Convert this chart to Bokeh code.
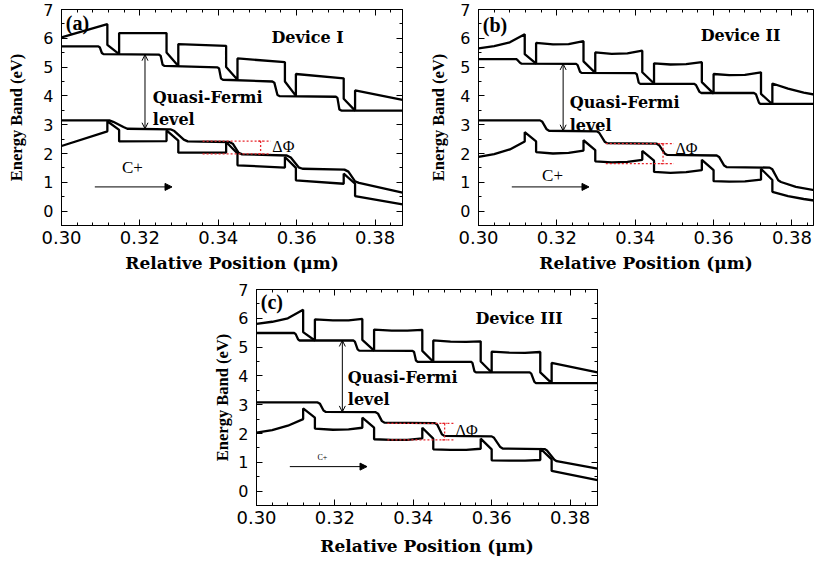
from bokeh.plotting import figure
from bokeh.layouts import row, column, Spacer
from bokeh.models import (Range1d, SingleIntervalTicker, LinearAxis, Label, Arrow,
                          OpenHead, NormalHead, PrintfTickFormatter, CustomJSTickFormatter)
from bokeh.embed import file_html
from bokeh.resources import INLINE

# ---------------- Device I ----------------
DEV1_CB_X = [0.300, 0.3117, 0.3117, 0.3147, 0.3147, 0.3268, 0.3268, 0.3298, 0.3298, 0.3420, 0.3420,
             0.3449, 0.3449, 0.3570, 0.3570, 0.3598, 0.3598, 0.3720, 0.3720, 0.3749, 0.3749, 0.3870]
DEV1_CB_Y = [6.03, 6.49, 5.77, 5.45, 6.18, 6.18, 5.51, 5.04, 5.80, 5.74, 5.00,
             4.56, 5.30, 5.17, 4.50, 4.00, 4.76, 4.61, 3.90, 3.49, 4.19, 3.86]
DEV1_EFN_X = [0.300, 0.3094, 0.3098, 0.3103, 0.3107, 0.3249, 0.3253, 0.3258, 0.3263, 0.3398, 0.3402,
              0.3407, 0.3412, 0.3538, 0.3543, 0.3551, 0.3557, 0.3700, 0.3704, 0.3709, 0.3714, 0.3870]
DEV1_EFN_Y = [5.72, 5.72, 5.68, 5.49, 5.45, 5.43, 5.39, 5.08, 5.04, 4.99, 4.95,
              4.60, 4.56, 4.50, 4.46, 4.03, 3.99, 3.97, 3.93, 3.53, 3.49, 3.49]
DEV1_EFP_X = [0.300, 0.3122, 0.3132, 0.3158, 0.3168, 0.3278, 0.3288, 0.3312, 0.3322, 0.3428, 0.3437,
              0.3452, 0.3461, 0.3575, 0.3585, 0.3605, 0.3615, 0.3722, 0.3732, 0.3749, 0.3759, 0.3870]
DEV1_EFP_Y = [3.15, 3.15, 3.10, 2.92, 2.86, 2.84, 2.78, 2.48, 2.42, 2.40, 2.34,
              2.02, 1.97, 1.93, 1.86, 1.52, 1.47, 1.44, 1.37, 1.03, 0.98, 0.64]
DEV1_VB_X = [0.300, 0.3117, 0.3117, 0.3147, 0.3147, 0.3268, 0.3268, 0.3298, 0.3298, 0.3420, 0.3420,
             0.3449, 0.3449, 0.3570, 0.3570, 0.3598, 0.3598, 0.3720, 0.3720, 0.3749, 0.3749, 0.3870]
DEV1_VB_Y = [2.26, 2.77, 3.12, 2.82, 2.42, 2.43, 2.80, 2.45, 2.03, 2.03, 2.40,
             2.00, 1.59, 1.51, 1.88, 1.50, 1.07, 0.95, 1.30, 0.95, 0.52, 0.23]

# ---------------- Device II ----------------
DEV2_CB_X = [0.300, 0.304, 0.308, 0.3118, 0.3118, 0.3147, 0.3147, 0.3190, 0.3230, 0.3268, 0.3268,
             0.3298, 0.3298, 0.3340, 0.3380, 0.3418, 0.3418, 0.3448, 0.3448, 0.3490, 0.3530, 0.3570,
             0.3570, 0.3600, 0.3600, 0.3640, 0.3680, 0.3721, 0.3721, 0.3750, 0.3750, 0.3790, 0.3830, 0.3860]
DEV2_CB_Y = [5.65, 5.73, 5.86, 6.14, 5.45, 5.12, 5.84, 5.79, 5.80, 5.90, 5.20,
             4.80, 5.51, 5.46, 5.48, 5.57, 4.82, 4.43, 5.13, 5.09, 5.10, 5.17,
             4.48, 4.08, 4.76, 4.72, 4.73, 4.82, 4.07, 3.71, 4.43, 4.25, 4.11, 4.04]
DEV2_EFN_X = [0.300, 0.3096, 0.3100, 0.3106, 0.3110, 0.3249, 0.3253, 0.3259, 0.3263, 0.3400, 0.3404,
              0.3409, 0.3413, 0.3550, 0.3555, 0.3564, 0.3569, 0.3703, 0.3708, 0.3716, 0.3720, 0.3860]
DEV2_EFN_Y = [5.28, 5.28, 5.24, 5.15, 5.12, 5.11, 5.07, 4.84, 4.80, 4.79, 4.75,
              4.46, 4.42, 4.42, 4.38, 4.14, 4.10, 4.10, 4.06, 3.76, 3.72, 3.72]
DEV2_EFP_X = [0.300, 0.3157, 0.3163, 0.3174, 0.3180, 0.3302, 0.3308, 0.3322, 0.3328, 0.3455, 0.3461,
              0.3476, 0.3482, 0.3608, 0.3614, 0.3627, 0.3633, 0.3743, 0.3750, 0.3765, 0.3772, 0.3810, 0.3860]
DEV2_EFP_Y = [3.15, 3.15, 3.10, 2.84, 2.79, 2.77, 2.72, 2.41, 2.36, 2.34, 2.29,
              1.99, 1.95, 1.93, 1.88, 1.58, 1.53, 1.51, 1.45, 1.07, 1.01, 0.84, 0.72]
DEV2_VB_X = [0.300, 0.304, 0.308, 0.3118, 0.3118, 0.3147, 0.3147, 0.3190, 0.3230, 0.3268, 0.3268,
             0.3298, 0.3298, 0.3340, 0.3380, 0.3418, 0.3418, 0.3448, 0.3448, 0.3490, 0.3530, 0.3570,
             0.3570, 0.3600, 0.3600, 0.3640, 0.3680, 0.3721, 0.3721, 0.3750, 0.3750, 0.3790, 0.3830, 0.3860]
DEV2_VB_Y = [1.88, 1.98, 2.14, 2.42, 2.74, 2.42, 2.05, 2.00, 2.02, 2.10, 2.46,
             2.12, 1.73, 1.69, 1.71, 1.78, 2.09, 1.75, 1.36, 1.33, 1.35, 1.42,
             1.78, 1.42, 1.04, 1.02, 1.03, 1.09, 1.47, 1.08, 0.67, 0.52, 0.42, 0.36]

# ---------------- Device III ----------------
DEV3_CB_X = [0.300, 0.304, 0.308, 0.3119, 0.3119, 0.3149, 0.3149, 0.3195, 0.3235, 0.3270, 0.3270,
             0.3300, 0.3300, 0.3345, 0.3385, 0.3423, 0.3423, 0.3451, 0.3451, 0.3495, 0.3535, 0.3572,
             0.3572, 0.3600, 0.3600, 0.3645, 0.3685, 0.3724, 0.3724, 0.3753, 0.3753, 0.3870]
DEV3_CB_Y = [5.81, 5.88, 6.00, 6.30, 5.52, 5.23, 5.96, 5.93, 5.93, 5.98, 5.25,
             4.88, 5.61, 5.57, 5.57, 5.60, 4.87, 4.49, 5.23, 5.19, 5.18, 5.20,
             4.50, 4.12, 4.84, 4.81, 4.80, 4.83, 4.12, 3.75, 4.45, 4.12]
DEV3_EFN_X = [0.300, 0.3096, 0.3100, 0.3106, 0.3110, 0.3247, 0.3251, 0.3258, 0.3262, 0.3398, 0.3402,
              0.3407, 0.3411, 0.3547, 0.3551, 0.3556, 0.3560, 0.3697, 0.3701, 0.3709, 0.3713, 0.3870]
DEV3_EFN_Y = [5.49, 5.49, 5.45, 5.27, 5.23, 5.23, 5.19, 4.92, 4.88, 4.87, 4.83,
              4.53, 4.49, 4.49, 4.45, 4.16, 4.12, 4.12, 4.08, 3.79, 3.75, 3.75]
DEV3_EFP_X = [0.300, 0.3156, 0.3162, 0.3171, 0.3177, 0.3304, 0.3310, 0.3320, 0.3326, 0.3455, 0.3461,
              0.3473, 0.3479, 0.3600, 0.3606, 0.3622, 0.3628, 0.3735, 0.3741, 0.3760, 0.3766, 0.3870]
DEV3_EFP_Y = [3.08, 3.08, 3.03, 2.80, 2.75, 2.74, 2.69, 2.43, 2.38, 2.36, 2.31,
              1.97, 1.92, 1.90, 1.85, 1.53, 1.48, 1.46, 1.41, 1.09, 1.04, 0.78]
DEV3_VB_X = [0.300, 0.304, 0.308, 0.3119, 0.3119, 0.3149, 0.3149, 0.3195, 0.3235, 0.3270, 0.3270,
             0.3300, 0.3300, 0.3345, 0.3385, 0.3423, 0.3423, 0.3451, 0.3451, 0.3495, 0.3535, 0.3572,
             0.3572, 0.3600, 0.3600, 0.3645, 0.3685, 0.3724, 0.3724, 0.3753, 0.3753, 0.3870]
DEV3_VB_Y = [2.03, 2.12, 2.27, 2.50, 2.87, 2.55, 2.17, 2.13, 2.14, 2.20, 2.55,
             2.20, 1.80, 1.78, 1.78, 1.83, 2.20, 1.82, 1.45, 1.43, 1.43, 1.47,
             1.82, 1.45, 1.07, 1.06, 1.06, 1.08, 1.48, 1.10, 0.70, 0.38]

# Delta-Phi markers: [x_left, x_right, y_top, y_bottom, x_vertical]
DPHI_1 = [0.3360, 0.3534, 2.43, 1.99, 0.3508]
DPHI_2 = [0.3325, 0.3499, 2.34, 1.65, 0.3471]
DPHI_3 = [0.3334, 0.3504, 2.35, 1.78, 0.3480]

# Quasi-Fermi arrows: [x, y_top, y_bottom]
QF_ARROW_1 = [0.3213, 5.43, 2.86]
QF_ARROW_2 = [0.3216, 5.11, 2.79]
QF_ARROW_3 = [0.3219, 5.23, 2.75]

X_TICK_STEP = 0.02
Y_TICK_STEP = 1

SERIF = "Liberation Serif"
WIDE_SERIF = "DejaVu Serif"
SANS = "DejaVu Sans"


def make_panel(frame_w, x_end, frame_h, left, right, top, bottom,
               ylab_standoff, xlab_standoff, right_axis=True):
    p = figure(frame_width=frame_w, frame_height=frame_h,
               x_range=Range1d(0.30, x_end), y_range=Range1d(-0.5, 7.0),
               min_border_left=left, min_border_right=right,
               min_border_top=top, min_border_bottom=bottom,
               output_backend="svg", toolbar_location=None,
               x_axis_label="Relative Position (\u03bcm)",
               y_axis_label="Energy Band (eV)")
    p.grid.visible = False
    p.outline_line_color = "black"
    p.outline_line_width = 1
    p.background_fill_color = "white"
    p.border_fill_color = "white"

    p.xaxis.ticker = SingleIntervalTicker(interval=X_TICK_STEP, num_minor_ticks=5)
    p.yaxis.ticker = SingleIntervalTicker(interval=Y_TICK_STEP, num_minor_ticks=2)
    p.xaxis.formatter = PrintfTickFormatter(format="%.2f")

    for ax in (p.xaxis[0], p.yaxis[0]):
        ax.axis_line_color = "black"
        ax.major_tick_line_color = "black"
        ax.minor_tick_line_color = "black"
        ax.major_tick_in = 6
        ax.major_tick_out = 0
        ax.minor_tick_in = 3
        ax.minor_tick_out = 0
        ax.major_label_text_font = SANS
        ax.major_label_text_color = "black"
        ax.axis_label_text_color = "black"
        ax.axis_label_text_font_style = "bold"

    p.xaxis.major_label_text_font_size = "18px"
    p.xaxis.major_label_standoff = 5
    p.xaxis.axis_label_text_font = WIDE_SERIF
    p.xaxis.axis_label_text_font_size = "17px"
    p.xaxis.axis_label_standoff = xlab_standoff

    p.yaxis.major_label_text_font_size = "16px"
    p.yaxis.major_label_standoff = 8
    p.yaxis.axis_label_text_font = SERIF
    p.yaxis.axis_label_text_font_size = "16.5px"
    p.yaxis.axis_label_standoff = ylab_standoff

    blank = CustomJSTickFormatter(code="return ''")
    extra = [("above", SingleIntervalTicker(interval=X_TICK_STEP, num_minor_ticks=5))]
    if right_axis:
        extra.append(("right", SingleIntervalTicker(interval=Y_TICK_STEP, num_minor_ticks=2)))
    for side, tk in extra:
        ax = LinearAxis(ticker=tk, formatter=blank, major_label_text_font_size="0px",
                        major_label_standoff=0, major_tick_in=6, major_tick_out=0,
                        minor_tick_in=3, minor_tick_out=0, axis_line_color="black")
        p.add_layout(ax, side)
    return p


def draw_bands(p, curves):
    for xs, ys in curves:
        p.line(xs, ys, line_color="black", line_width=2.3)


def draw_dphi(p, d):
    x0, x1, yt, yb, xv = d
    red = "#e8262c"
    p.segment(x0=[x0, x0, xv, xv - 0.0006, xv - 0.0006], y0=[yt, yb, yt, yt, yb],
              x1=[x1, x1, xv, xv + 0.0006, xv + 0.0006], y1=[yt, yb, yb, yt, yb],
              line_color=red, line_width=1.3, line_dash="2 2")


def draw_qf_arrow(p, a):
    x, y0, y1 = a
    p.add_layout(Arrow(x_start=x, y_start=y0, x_end=x, y_end=y1, line_width=1,
                       start=OpenHead(size=6, line_width=1),
                       end=OpenHead(size=6, line_width=1)))


def text(p, x, y, s, font, size, bold=True, align="left"):
    p.add_layout(Label(x=x, y=y, text=s, text_font=font, text_font_size=size,
                       text_font_style="bold" if bold else "normal",
                       text_baseline="middle", text_align=align, text_color="black"))


def annotate(p, tag, tag_y, device, dev_x, dev_y, qf_y, lvl_y, cp_x, cp_y, cp_size, arr_y):
    text(p, 0.3011, tag_y, tag, SERIF, "20px")
    text(p, dev_x, dev_y, device, WIDE_SERIF, "16px", align="center")
    text(p, 0.3233, qf_y, "Quasi-Fermi", WIDE_SERIF, "16px")
    text(p, 0.3233, lvl_y, "level", WIDE_SERIF, "16px")
    text(p, cp_x, cp_y, "C+", SERIF, cp_size, bold=False, align="center")
    p.add_layout(Arrow(x_start=0.3085, y_start=arr_y, x_end=0.3282, y_end=arr_y,
                       line_width=1, end=NormalHead(size=7, fill_color="black", line_color="black")))


# Device I panel
pa = make_panel(341, 0.387, 216, 61, 14, 9, 56, 14, 6)
draw_bands(pa, [(DEV1_CB_X, DEV1_CB_Y), (DEV1_EFN_X, DEV1_EFN_Y),
                (DEV1_EFP_X, DEV1_EFP_Y), (DEV1_VB_X, DEV1_VB_Y)])
draw_dphi(pa, DPHI_1)
draw_qf_arrow(pa, QF_ARROW_1)
annotate(pa, "(a)", 6.53, "Device I", 0.3628, 6.03, 3.95, 3.19, 0.3181, 1.52, "17px", 0.84)
text(pa, DPHI_1[1] + 0.0004, (DPHI_1[2] + DPHI_1[3]) / 2 + 0.02, "\u0394\u03a6", SERIF, "16px", bold=False)

# Device II panel
pb = make_panel(335, 0.3855, 216, 62, 2, 9, 56, 9, 6, right_axis=False)
draw_bands(pb, [(DEV2_CB_X, DEV2_CB_Y), (DEV2_EFN_X, DEV2_EFN_Y),
                (DEV2_EFP_X, DEV2_EFP_Y), (DEV2_VB_X, DEV2_VB_Y)])
draw_dphi(pb, DPHI_2)
draw_qf_arrow(pb, QF_ARROW_2)
annotate(pb, "(b)", 6.45, "Device II", 0.3669, 6.09, 3.78, 2.98, 0.3189, 1.22, "17px", 0.84)
text(pb, DPHI_2[1] + 0.0004, 2.17, "\u0394\u03a6", SERIF, "16px", bold=False)

# Device III panel
pc = make_panel(341, 0.387, 216, 66, 14, 8, 57, 3, 9)
draw_bands(pc, [(DEV3_CB_X, DEV3_CB_Y), (DEV3_EFN_X, DEV3_EFN_Y),
                (DEV3_EFP_X, DEV3_EFP_Y), (DEV3_VB_X, DEV3_VB_Y)])
draw_dphi(pc, DPHI_3)
draw_qf_arrow(pc, QF_ARROW_3)
annotate(pc, "(c)", 6.58, "Device III", 0.3670, 5.98, 3.95, 3.19, 0.3168, 1.16, "8px", 0.85)
text(pc, DPHI_3[1] + 0.0004, 2.09, "\u0394\u03a6", SERIF, "16px", bold=False)

layout = column(row(pa, pb), row(Spacer(width=190, height=281), pc))

open("out.html", "w").write(file_html(layout, INLINE))
